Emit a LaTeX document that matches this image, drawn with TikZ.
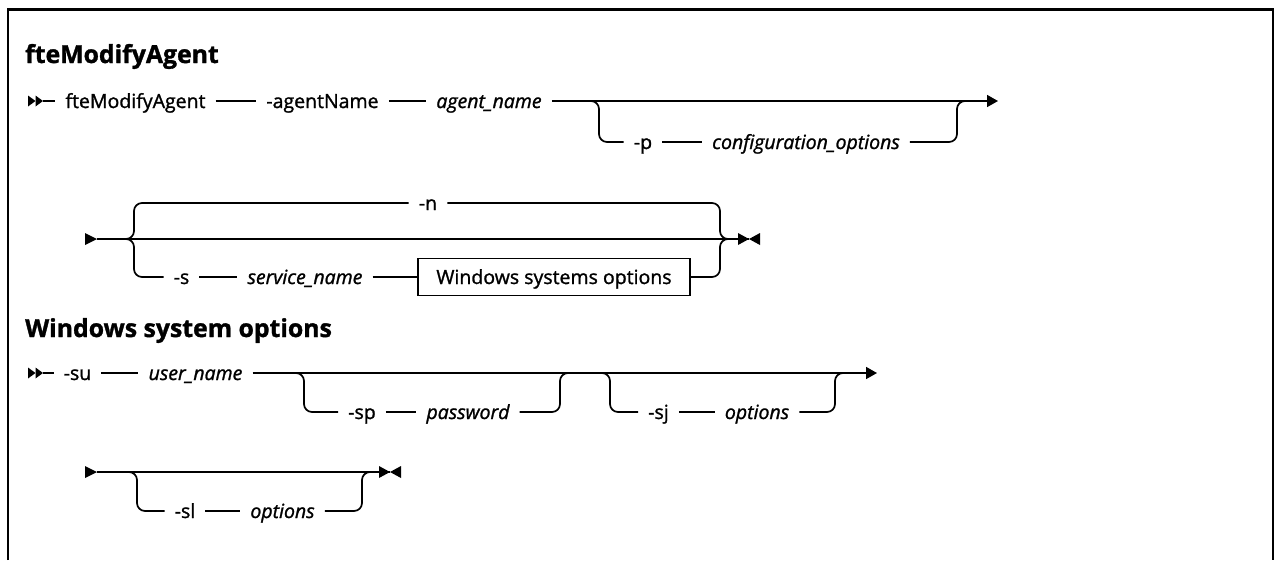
\documentclass[tikz,border=0pt]{standalone}
\usepackage{fontspec}
\setmainfont{Open Sans}[FakeBold=1.3]
\usetikzlibrary{arrows.meta}
\begin{document}
\begin{tikzpicture}[x=1pt,y=-1pt,
  rail/.style={line width=1.7pt, rounded corners=8pt},
  tok/.style={inner xsep=10pt, inner ysep=0pt, text height=18pt, text depth=4pt,
    font=\fontsize{19.5}{22}\selectfont},
  var/.style={tok, font=\fontsize{19.5}{22}\selectfont\itshape},
  ttl/.style={anchor=base west, inner sep=0pt, font=\fontsize{24.8}{27}\selectfont\bfseries},
  boxn/.style={draw, line width=1.5pt, inner xsep=8pt, inner ysep=0pt,
    minimum width=272pt, minimum height=37pt, text height=18pt, text depth=4pt,
    font=\fontsize{19.5}{22}\selectfont},
  endarrow/.style={line width=1.7pt, -{Triangle[length=11pt,width=12pt]}}
]
\useasboundingbox (0,0) rectangle (1275,560);
% frame
\draw[line width=2.2pt] (8,560) -- (8,9.5) -- (1273,9.5) -- (1273,560);

% ---------- titles
\node[ttl] (t1) at (25,63) {fteModifyAgent};
\node[ttl] (t2) at (25,337) {Windows system options};

% ---------- row 1
\fill (28,95.5) -- (35.5,101) -- (28,106.5) -- cycle;
\fill (35.5,95.5) -- (43,101) -- (35.5,106.5) -- cycle;
\coordinate (s1) at (43,101);
\node[tok] (cmd) at (135.5,101) {fteModifyAgent};
\node[tok] (agn) at (322.5,101) {-agentName};
\node[var] (agv) at (489,101) {agent\_name};
\node[tok] (p) at (643,142) {-p};
\node[var] (cfg) at (806,142) {configuration\_options};
\coordinate (e1) at (998,101);
\coordinate (b1) at (599,101);
\coordinate (j1) at (957,101);
\draw[line width=1.7pt] (s1) -- (cmd);
\draw[line width=1.7pt] (cmd) -- (agn);
\draw[line width=1.7pt] (agn) -- (agv);
\draw[endarrow] (agv) -- (e1);
\draw[rail] ([xshift=-10pt]b1) -- (b1) -- (b1 |- p) -- (p);
\draw[line width=1.7pt] (p) -- (cfg);
\draw[rail] (cfg) -| (j1) -- ++(10,0);

% ---------- row 2
\fill (85,233) -- (97,239) -- (85,245) -- cycle;
\coordinate (s2) at (97,239);
\coordinate (f2) at (134,239);
\coordinate (g2) at (720,239);
\coordinate (e2) at (749,239);
\node[tok] (n) at (428,203) {-n};
\node[tok] (s) at (181.5,277) {-s};
\node[var] (svc) at (305,277) {service\_name};
\node[boxn] (win) at (554,277) {Windows systems options};
\draw[line width=1.7pt] (s2) -- (e2);
\draw[rail] ([xshift=-10pt]f2) -- (f2) -- (f2 |- n) -- (n);
\draw[rail] ([xshift=-10pt]f2) -- (f2) -- (f2 |- s) -- (s);
\draw[line width=1.7pt] (s) -- (svc);
\draw[line width=1.7pt] (svc) -- (win);
\draw[rail] (n) -| (g2) -- ++(10,0);
\draw[rail] (win) -| (g2) -- ++(10,0);
\fill (738,233) -- (749,239) -- (738,245) -- cycle;
\fill (760,233) -- (749,239) -- (760,245) -- cycle;

% ---------- row 3
\fill (28,367.5) -- (35.5,373) -- (28,378.5) -- cycle;
\fill (35.5,367.5) -- (43,373) -- (35.5,378.5) -- cycle;
\coordinate (s3) at (43,373);
\node[tok] (su) at (77.5,373) {-su};
\node[var] (usr) at (195.5,373) {user\_name};
\node[tok] (sp) at (362,412) {-sp};
\node[var] (pwd) at (468,412) {password};
\node[tok] (sj) at (658.5,412) {-sj};
\node[var] (opt1) at (757,412) {options};
\coordinate (e3) at (877,373);
\coordinate (b3) at (304,373);
\coordinate (j3) at (560,373);
\coordinate (b4) at (610,373);
\coordinate (j4) at (835,373);
\draw[line width=1.7pt] (s3) -- (su);
\draw[line width=1.7pt] (su) -- (usr);
\draw[endarrow] (usr) -- (e3);
\draw[rail] ([xshift=-10pt]b3) -- (b3) -- (b3 |- sp) -- (sp);
\draw[line width=1.7pt] (sp) -- (pwd);
\draw[rail] (pwd) -| (j3) -- ++(10,0);
\draw[rail] ([xshift=-10pt]b4) -- (b4) -- (b4 |- sj) -- (sj);
\draw[line width=1.7pt] (sj) -- (opt1);
\draw[rail] (opt1) -| (j4) -- ++(10,0);

% ---------- row 4
\fill (85,466) -- (97,472) -- (85,478) -- cycle;
\coordinate (s4) at (97,472);
\coordinate (e4) at (390,472);
\coordinate (b5) at (137,472);
\coordinate (j5) at (362,472);
\node[tok] (sl) at (185,511) {-sl};
\node[var] (opt2) at (282.5,511) {options};
\draw[line width=1.7pt] (s4) -- (e4);
\draw[rail] ([xshift=-10pt]b5) -- (b5) -- (b5 |- sl) -- (sl);
\draw[line width=1.7pt] (sl) -- (opt2);
\draw[rail] (opt2) -| (j5) -- ++(10,0);
\fill (379,466) -- (390,472) -- (379,478) -- cycle;
\fill (401,466) -- (390,472) -- (401,478) -- cycle;
\end{tikzpicture}
\end{document}
